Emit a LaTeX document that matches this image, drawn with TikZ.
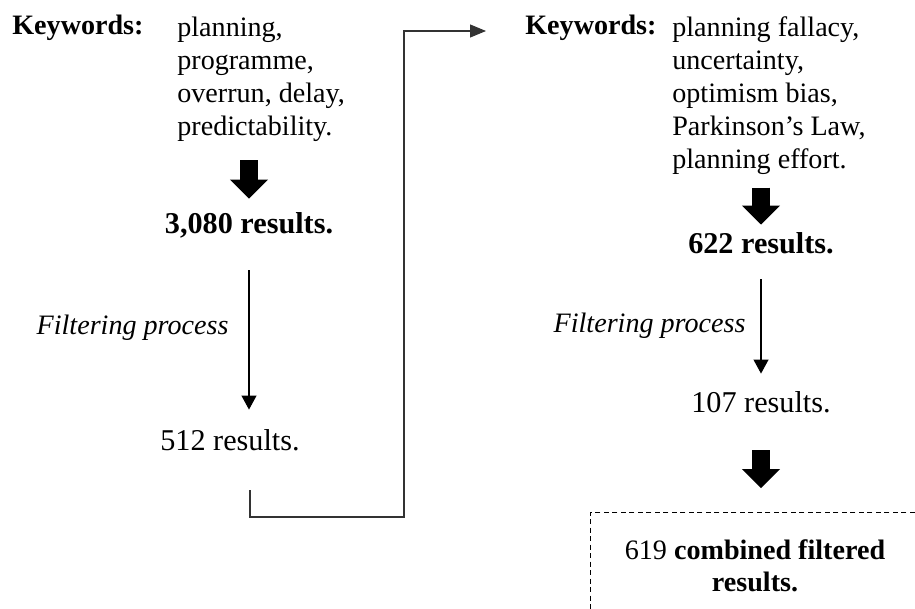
\documentclass[tikz,border=0pt]{standalone}
\usepackage{fontspec}
\setmainfont{Liberation Serif}
\usetikzlibrary{positioning}
\usetikzlibrary{calc}
\usetikzlibrary{arrows.meta}

\begin{document}
\begin{tikzpicture}[x=0.02cm,y=-0.02cm]
\tikzstyle{keyw} =[font=\fontsize{16}{18.8}\selectfont\bfseries,inner sep=0,anchor=base west]
\tikzstyle{terms} =[font=\fontsize{16}{18.8}\selectfont,inner sep=0,align=left,anchor=north west]
\tikzstyle{result} =[font=\fontsize{17.2}{20}\selectfont,inner sep=0,text height=12pt,text depth=4pt,anchor=base]
\tikzstyle{filtlabel} =[font=\fontsize{16}{18.8}\selectfont\itshape,inner sep=0]
\tikzstyle{flow} =[draw,line width=0.6pt,-{Triangle[length=0.28cm,width=0.3cm]}]
\tikzstyle{bigarrow} =[draw,line width=0.36cm,-{Triangle[length=0.38cm,width=0.74cm]}]
\tikzstyle{link} =[draw=black!80,line width=0.6pt,-{Triangle[length=0.32cm,width=0.26cm]}]
\tikzstyle{combined} =[draw,line width=0.5pt,dash pattern=on 0.1cm off 0.07cm,align=center,inner sep=0,minimum width=6.6cm,minimum height=2.14cm,font=\fontsize{16}{18.3}\selectfont]
\clip (0,0) rectangle (915,608);

% first search
\node[keyw](kwA) at (12,35){Keywords:};
\node[terms](listA) at (177,17){planning,\\programme,\\overrun, delay,\\predictability.};
\node[result](resA) at (249,233){\textbf{3,080 results.}};
\node[result](resB) at (230,450){512 results.};
\draw[bigarrow,shorten <=0.36cm,shorten >=0.26cm] (listA.south -| resA) -- (resA.north);
\draw[flow,shorten <=0.6cm,shorten >=0.38cm] (resA.south) -- node[filtlabel,left=0.4cm,pos=0.466]{Filtering process} (resA.south |- resB.north);

% second search
\node[keyw](kwB) at (525,35){Keywords:};
\node[terms](listB) at (672,16){planning fallacy,\\uncertainty,\\optimism bias,\\Parkinson’s Law,\\planning effort.};
\node[result](resC) at (761,253){\textbf{622 results.}};
\node[result](resD) at (761,412){107 results.};
\draw[bigarrow,shorten <=0.26cm,shorten >=0.14cm] (listB.south -| resC) -- (resC.north);
\draw[flow,shorten <=0.38cm,shorten >=0.34cm] (resC.south) -- node[filtlabel,left=0.3cm,pos=0.5]{Filtering process} (resD.north);

% combined
\node[combined](comb) at (755,566){619 \textbf{combined filtered}\\\textbf{results.}};
\draw[bigarrow,shorten <=0.62cm,shorten >=0.48cm] (resD.south) -- (resD.south |- comb.north);

% link between the searches
\coordinate (bendA) at (250,517);
\coordinate (bendB) at (404,517);
\coordinate (bendC) at (404,31);
\draw[link,shorten <=0.66cm,shorten >=0.78cm] (bendA |- resB.south) -- (bendA) -- (bendB) -- (bendC) -- (bendC -| kwB.west);
\end{tikzpicture}
\end{document}
